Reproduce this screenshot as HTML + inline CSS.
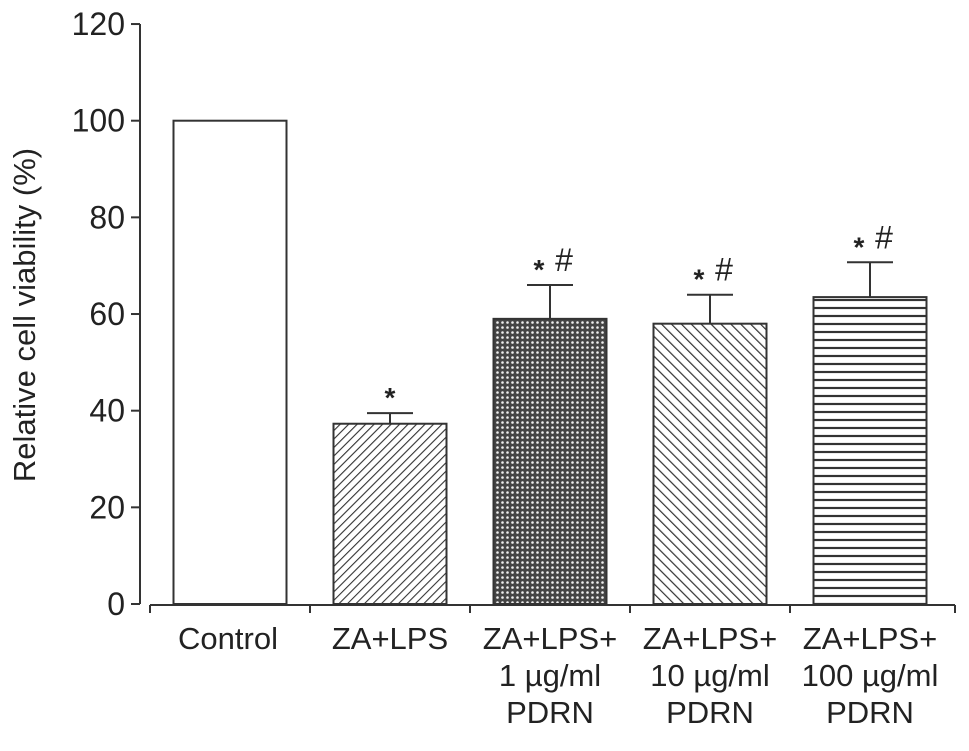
<!DOCTYPE html>
<html><head><meta charset="utf-8"><style>
body{margin:0;background:#fff;}
svg text{font-family:"Liberation Sans",Arial,sans-serif;fill:#222;}
</style></head><body>
<svg width="969" height="746" viewBox="0 0 969 746">
<defs>
<pattern id="p1" width="6" height="6" patternUnits="userSpaceOnUse" patternTransform="rotate(45)"><rect width="6" height="6" fill="#fff"/><line x1="0" y1="0" x2="0" y2="6" stroke="#333" stroke-width="2.2"/></pattern>
<pattern id="p2" width="5" height="5" patternUnits="userSpaceOnUse"><rect width="5" height="5" fill="#444"/><circle cx="2.5" cy="2.5" r="1.3" fill="#eee"/></pattern>
<pattern id="p3" width="7" height="7" patternUnits="userSpaceOnUse" patternTransform="rotate(-45)"><rect width="7" height="7" fill="#fff"/><line x1="0" y1="0" x2="0" y2="7" stroke="#333" stroke-width="2.4"/></pattern>
<pattern id="p4" width="8" height="8" patternUnits="userSpaceOnUse"><rect width="8" height="8" fill="#fff"/><line x1="0" y1="4" x2="8" y2="4" stroke="#333" stroke-width="2.2"/></pattern>
</defs>
<g id="axes"></g>
<g id="bars"></g>
<text transform="translate(35,315) rotate(-90)" text-anchor="middle" font-size="31">Relative cell viability (%)</text>
</svg>
<script>
const categories=[["Control"],["ZA+LPS"],["ZA+LPS+","1 µg/ml","PDRN"],["ZA+LPS+","10 µg/ml","PDRN"],["ZA+LPS+","100 µg/ml","PDRN"]];
const values=[100,37.3,59,58,63.5];
const errors=[0,2.2,7,6,7.2];
const marks=["","*","* #","* #","* #"];
const yTicks=[0,20,40,60,80,100,120];
const fills=["#fff","url(#p1)","url(#p2)","url(#p3)","url(#p4)"];
const NS="http://www.w3.org/2000/svg";
const y=v=>604-v*4.833;
const x0=150,bw=160;
const cx=i=>x0+bw*i+80;
function el(tag,attrs,parent,txt){const e=document.createElementNS(NS,tag);for(const k in attrs)e.setAttribute(k,attrs[k]);if(txt!==undefined)e.textContent=txt;parent.appendChild(e);return e;}
const ax=document.getElementById('axes'),bg=document.getElementById('bars');
const yl=el('line',{x1:140,y1:y(120),x2:140,y2:y(0),stroke:'#333','stroke-width':2},ax);


yTicks.forEach(t=>{
 el('line',{x1:131,y1:y(t),x2:140,y2:y(t),stroke:'#333','stroke-width':2},ax);
 const tx=el('text',{x:125,y:y(t)+11,'text-anchor':'end','font-size':32},ax,t);
 
 
});
const xl=el('line',{x1:x0,y1:605,x2:x0+bw*5+5,y2:605,stroke:'#333','stroke-width':2},ax);


for(let i=0;i<=5;i++){el('line',{x1:x0+bw*i+(i==5?5:0),y1:605,x2:x0+bw*i+(i==5?5:0),y2:613,stroke:'#333','stroke-width':2},ax);}
values.forEach((v,i)=>{
 const c=cx(i),w=113;
 const r=el('rect',{x:c-w/2,y:y(v),width:w,height:y(0)-y(v),fill:fills[i],stroke:'#333','stroke-width':2},bg);
 
 
 if(errors[i]>0){
  const ye=y(v+errors[i]);
  const e1=el('line',{x1:c,y1:y(v),x2:c,y2:ye,stroke:'#333','stroke-width':2},bg);
  
  
  el('line',{x1:c-23,y1:ye,x2:c+23,y2:ye,stroke:'#333','stroke-width':2},bg);
 }
 if(marks[i]){
  const ty=y(v+errors[i])-14;
  if(marks[i]=="*"){const s=el('text',{x:c,y:ty+8,'text-anchor':'middle','font-size':28,'font-weight':'bold'},bg,'*');}
  else{const s=el('text',{x:c-11,y:ty+8,'text-anchor':'middle','font-size':28,'font-weight':'bold'},bg,'*');
   const h=el('text',{x:c+14,y:ty,'text-anchor':'middle','font-size':32},bg,'#');}
 }
 categories[i].forEach((ln,j)=>{
  const t=el('text',{x:c+(i==0?-2:0),y:649+j*37,'text-anchor':'middle','font-size':31},bg,ln);
  
  
 });
});
</script>
</body></html>
